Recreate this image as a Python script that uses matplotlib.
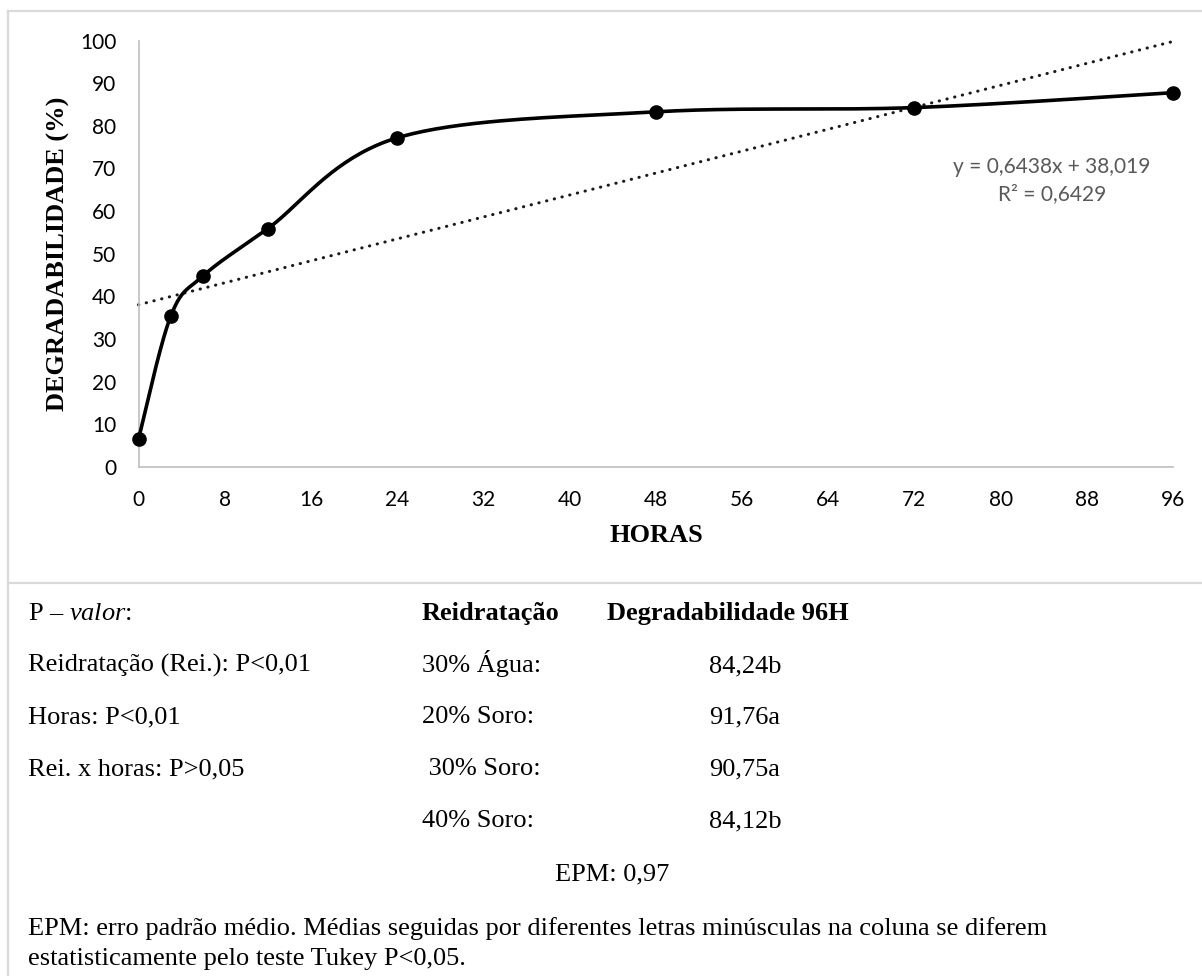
#%% Import libraries
import numpy as np
import matplotlib.pyplot as plt
from matplotlib.lines import Line2D

#%% Data
horas = [0, 3, 6, 12, 24, 48, 72, 96]
degradabilidade = [6.5, 35.4, 44.8, 55.9, 77.2, 83.3, 84.3, 87.8]
x_ticks = list(range(0, 97, 8))
y_ticks = list(range(0, 101, 10))

# linear trendline reported on the chart
trend_slope = 0.6438
trend_intercept = 38.019
trend_eq = 'y = 0,6438x + 38,019'
trend_r2 = 'R² = 0,6429'

# text table below the chart
pvalor_linhas = ['Reidratação (Rei.): P<0,01', 'Horas: P<0,01', 'Rei. x horas: P>0,05']
tratamentos = ['30% Água:', '20% Soro:', ' 30% Soro:', '40% Soro:']
degrad_96h = ['84,24b', '91,76a', '90,75a', '84,12b']
epm = 'EPM: 0,97'
nota = ['EPM: erro padrão médio. Médias seguidas por diferentes letras minúsculas na coluna se diferem',
        'estatisticamente pelo teste Tukey P<0,05.']

#%% Smoothed line like Excel (Catmull-Rom through the points)
def smooth_line(xs, ys, n = 40):
    p = np.column_stack([xs, ys]).astype(float)
    p_ext = np.vstack([p[0], p, p[-1]]) # repeat end points
    out = []
    for i in range(len(p) - 1):
        p0, p1, p2, p3 = p_ext[i], p_ext[i+1], p_ext[i+2], p_ext[i+3]
        c1 = p1 + (p2 - p0) / 6
        c2 = p2 - (p3 - p1) / 6
        t = np.linspace(0, 1, n)[:, None]
        seg = (1-t)**3*p1 + 3*(1-t)**2*t*c1 + 3*(1-t)*t**2*c2 + t**3*p2
        out.append(seg if i == 0 else seg[1:])
    out = np.vstack(out)
    return out[:, 0], out[:, 1]

#%% Figure
W, H = 1202, 976
plt.rcParams['mathtext.fontset'] = 'custom'
plt.rcParams['mathtext.rm'] = 'Liberation Serif'
plt.rcParams['mathtext.it'] = 'Liberation Serif:italic'
fig = plt.figure(figsize=(W/100, H/100), dpi=100)

def fx(px): return px / W # pixel to figure fraction
def fy(py): return 1 - py / H

ax = fig.add_axes([fx(138.5), fy(466.7), fx(1173) - fx(138.5), fy(40.7) - fy(466.7)])
ax.set_xlim(0, 96)
ax.set_ylim(0, 100)
ax.set_xticks(x_ticks)
ax.set_yticks(y_ticks)
for s in ['top', 'right']:
    ax.spines[s].set_visible(False)
for s in ['left', 'bottom']:
    ax.spines[s].set_color('#bfbfbf')
    ax.spines[s].set_linewidth(1.2)
ax.tick_params(axis = 'both', length = 0, labelsize = 15, labelcolor = 'black')
ax.tick_params(axis = 'y', pad = 16)
ax.tick_params(axis = 'x', pad = 17)
for lab in ax.get_xticklabels() + ax.get_yticklabels():
    lab.set_family('Lato')

# trendline
xt = np.array([0, 96])
ax.plot(xt, trend_slope * xt + trend_intercept, color = '#1a1a1a', lw = 2.2,
        linestyle = (0, (0.1, 2.5)), dash_capstyle = 'round', clip_on = False, zorder = 2)

# smoothed data line
xs, ys = smooth_line(horas, degradabilidade)
ax.plot(xs, ys, color = 'black', lw = 2.6, solid_capstyle = 'round', clip_on = False, zorder = 3)
ax.plot(horas, degradabilidade, 'o', color = 'black', ms = 9.5, clip_on = False, zorder = 4)

ax.text(0.883, 0.671, trend_eq + '\n' + trend_r2, transform = ax.transAxes, ha = 'center', va = 'center',
        fontsize = 15, color = '#595959', family = 'Lato', linespacing = 1.45)

# axis titles
fig.text(fx(58), fy(254), 'DEGRADABILIDADE (%)', rotation = 90, ha = 'center', va = 'center',
         family = 'Liberation Serif', fontweight = 'bold', fontsize = 19)
fig.text(fx(656), fy(536), 'HORAS', ha = 'center', va = 'center',
         family = 'Liberation Serif', fontweight = 'bold', fontsize = 19)

# frame lines
line_kw = dict(color = '#d9d9d9', lw = 1.6, transform = fig.transFigure)
fig.add_artist(Line2D([fx(7.5), 1], [fy(11), fy(11)], **line_kw))
fig.add_artist(Line2D([fx(7.5), fx(7.5)], [fy(11), 0], **line_kw))
fig.add_artist(Line2D([fx(7.5), 1], [fy(583), fy(583)], **line_kw))

#%% Text table (baseline positions in pixels)
txt_kw = dict(family = 'Liberation Serif', fontsize = 19, va = 'baseline', color = 'black')
row_y = [620, 672, 723, 775, 827]
fig.text(fx(28), fy(row_y[0]), r'P – $\mathit{valor}$:', **txt_kw)
for i, t in enumerate(pvalor_linhas):
    fig.text(fx(28), fy(row_y[i+1]), t, **txt_kw)
fig.text(fx(421.7), fy(row_y[0]), 'Reidratação', fontweight = 'bold', **txt_kw)
fig.text(fx(606.7), fy(row_y[0]), 'Degradabilidade 96H', fontweight = 'bold', **txt_kw)
for i, (t, v) in enumerate(zip(tratamentos, degrad_96h)):
    fig.text(fx(421.7), fy(row_y[i+1]), t, **txt_kw)
    fig.text(fx(745), fy(row_y[i+1]), v, ha = 'center', **txt_kw)
fig.text(fx(612), fy(880), epm, ha = 'center', **txt_kw)
fig.text(fx(28), fy(935), nota[0], **txt_kw)
fig.text(fx(28), fy(965), nota[1], **txt_kw)

plt.savefig('out.png', dpi = 100)
